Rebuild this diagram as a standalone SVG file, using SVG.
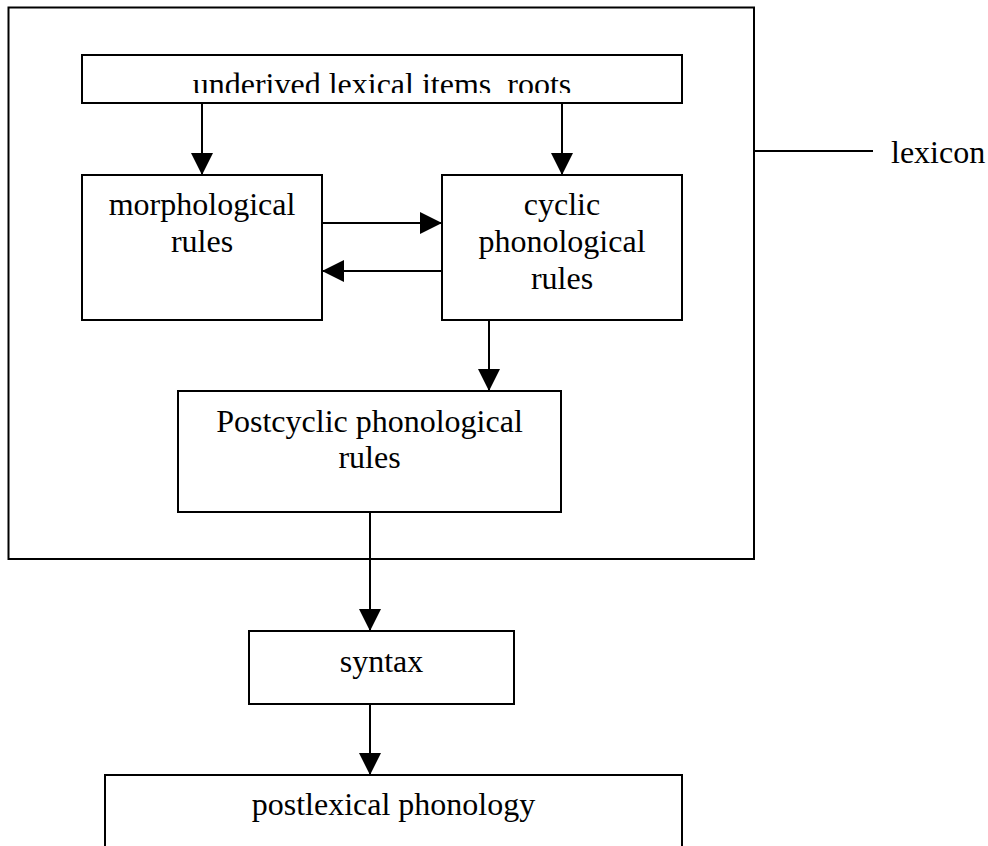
<svg xmlns="http://www.w3.org/2000/svg" width="988" height="846" viewBox="0 0 988 846">
<style>
.box{fill:#fff;stroke:#000;stroke-width:2}
.edge{fill:none;stroke:#000;stroke-width:2}
.t{font-family:"Liberation Serif","Times New Roman",serif;font-size:32px;fill:#000;text-anchor:middle}
</style>
<defs>
<marker id="ah" markerUnits="userSpaceOnUse" markerWidth="22" markerHeight="22" viewBox="0 0 20 20" refX="20" refY="10" orient="auto">
<path d="M0,0 L20,10 L0,20 Z" fill="#000"/>
</marker>
<clipPath id="topclip"><rect x="82" y="55" width="600" height="38"/></clipPath>
</defs>
<rect width="988" height="846" fill="#fff"/>
<g id="lexicon">
<rect class="box" x="8.5" y="7.5" width="745.5" height="551.5"/>
<line class="edge" x1="754" y1="151" x2="873" y2="151"/>
<text class="t" x="891" y="163" style="text-anchor:start">lexicon</text>
</g>
<g id="roots">
<rect class="box" x="82" y="55" width="600" height="48"/>
<text class="t" x="382" y="95" clip-path="url(#topclip)" xml:space="preserve">underived lexical items  roots</text>
</g>
<g id="morph">
<rect class="box" x="82" y="175" width="240" height="145"/>
<text class="t" x="202" y="215">morphological</text>
<text class="t" x="202" y="252">rules</text>
</g>
<g id="cyclic">
<rect class="box" x="442" y="175" width="240" height="145"/>
<text class="t" x="562" y="215">cyclic</text>
<text class="t" x="562" y="252">phonological</text>
<text class="t" x="562" y="289">rules</text>
</g>
<g id="postcyclic">
<rect class="box" x="178" y="391" width="383" height="121"/>
<text class="t" x="369.5" y="432">Postcyclic phonological</text>
<text class="t" x="369.5" y="468">rules</text>
</g>
<g id="syntax">
<rect class="box" x="249" y="631" width="265" height="73"/>
<text class="t" x="381.5" y="672">syntax</text>
</g>
<g id="postlexical">
<rect class="box" x="105" y="775" width="577" height="90"/>
<text class="t" x="393.5" y="815">postlexical phonology</text>
</g>
<g id="connectors">
<line class="edge" x1="202" y1="103" x2="202" y2="175" marker-end="url(#ah)"/>
<line class="edge" x1="562" y1="103" x2="562" y2="175" marker-end="url(#ah)"/>
<line class="edge" x1="322" y1="223" x2="442" y2="223" marker-end="url(#ah)"/>
<line class="edge" x1="442" y1="271" x2="322" y2="271" marker-end="url(#ah)"/>
<line class="edge" x1="489" y1="320" x2="489" y2="391" marker-end="url(#ah)"/>
<line class="edge" x1="370" y1="512" x2="370" y2="631" marker-end="url(#ah)"/>
<line class="edge" x1="370" y1="704" x2="370" y2="775" marker-end="url(#ah)"/>
</g>
</svg>
